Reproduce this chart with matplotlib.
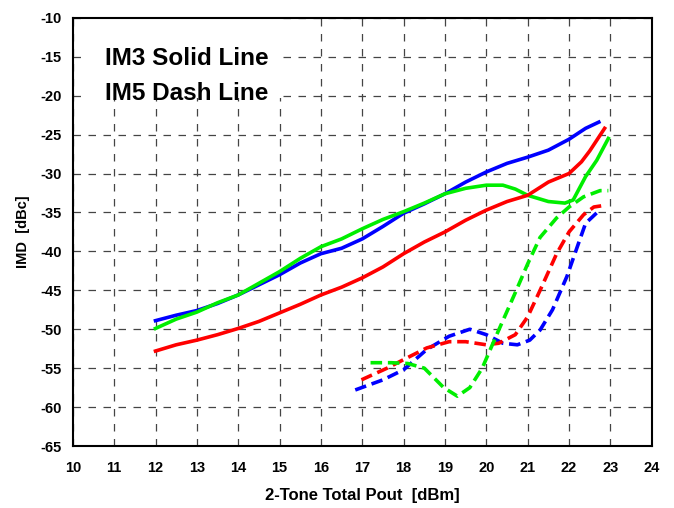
import matplotlib.pyplot as plt
from matplotlib.patches import Rectangle

plt.rcParams['font.family'] = ['Liberation Sans', 'DejaVu Sans']
plt.rcParams['font.weight'] = 'bold'
plt.rcParams['axes.unicode_minus'] = False

# IM3 (solid)
im3_blue_x = [12, 12.5, 13, 13.5, 14, 14.5, 15, 15.5, 16, 16.5, 17, 17.5, 18, 18.5,
              19, 19.5, 20, 20.5, 21, 21.5, 22, 22.4, 22.72]
im3_blue_y = [-48.9, -48.2, -47.6, -46.7, -45.6, -44.3, -43.0, -41.5, -40.3, -39.6, -38.4,
              -36.8, -35.1, -33.9, -32.6, -31.1, -29.8, -28.7, -27.9, -27.0, -25.6, -24.2, -23.4]

im3_green_x = [12, 12.5, 13, 13.5, 14, 14.5, 15, 15.5, 16, 16.5, 17, 17.5, 18, 18.5,
               19, 19.5, 20, 20.4, 20.7, 21, 21.5, 21.9, 22.1, 22.4, 22.67, 22.95]
im3_green_y = [-49.9, -48.7, -47.8, -46.6, -45.6, -44.1, -42.6, -40.9, -39.4, -38.4, -37.1,
               -35.9, -34.9, -33.8, -32.6, -31.9, -31.5, -31.5, -32.0, -32.8, -33.6, -33.8,
               -33.4, -30.4, -28.3, -25.5]

im3_red_x = [12, 12.5, 13, 13.5, 14, 14.5, 15, 15.5, 16, 16.5, 17, 17.5, 18, 18.5,
             19, 19.5, 20, 20.5, 21, 21.5, 22, 22.3, 22.5, 22.86]
im3_red_y = [-52.8, -52.0, -51.4, -50.7, -49.9, -49.0, -47.9, -46.8, -45.6, -44.6, -43.4,
             -42.0, -40.3, -38.8, -37.5, -36.0, -34.7, -33.6, -32.8, -31.1, -30.0, -28.5,
             -27.1, -24.2]

# IM5 (dashed)
im5_blue_x = [16.83, 17.5, 18, 18.56, 19.1, 19.6, 20, 20.4, 20.75, 21.05, 21.3, 21.6,
              21.95, 22.2, 22.4, 22.72]
im5_blue_y = [-57.8, -56.5, -55.2, -52.6, -50.9, -50.0, -50.7, -51.8, -52.0, -51.4, -50.1,
              -47.5, -43.2, -39.4, -36.4, -34.8]

im5_red_x = [16.98, 17.6, 18, 18.56, 19.1, 19.5, 20, 20.3, 20.7, 21, 21.3, 21.7, 22,
             22.35, 22.6, 22.85]
im5_red_y = [-56.5, -55.0, -53.9, -52.4, -51.6, -51.6, -52.0, -51.8, -50.7, -48.4, -45.0,
             -40.3, -37.5, -35.3, -34.3, -34.1]

im5_green_x = [17.2, 17.7, 18.1, 18.5, 18.97, 19.3, 19.6, 19.9, 20.3, 20.7, 21, 21.3,
               21.7, 22, 22.35, 22.75, 22.95]
im5_green_y = [-54.3, -54.3, -54.4, -55.0, -57.5, -58.6, -57.5, -55.0, -50.1, -45.3, -41.6,
               -38.2, -35.7, -34.3, -33.0, -32.2, -32.2]

x_ticks = list(range(10, 25))
y_ticks = list(range(-65, -9, 5))

fig = plt.figure(figsize=(6.74, 5.08), dpi=100)
ax = fig.add_axes([0.108, 0.122, 0.859, 0.843])

ax.set_xlim(10, 24)
ax.set_ylim(-65, -10)
ax.set_xticks(x_ticks)
ax.set_yticks(y_ticks)
ax.tick_params(length=0, labelsize=10.5)
ax.tick_params(axis='x', pad=11)
ax.tick_params(axis='y', pad=8)
ax.grid(True, color='#444444', linestyle=(0, (6, 6)), linewidth=0.9)
ax.set_axisbelow(True)
for s in ax.spines.values():
    s.set_linewidth(1.5)
    s.set_color('black')

# white box behind the note text
ax.add_patch(Rectangle((10.25, -20.3), 4.8, 10.3, facecolor='white',
                       edgecolor='none', zorder=1.5))

lw = 2.6
ax.plot(im3_blue_x, im3_blue_y, color='#0000ff', lw=lw, zorder=3)
ax.plot(im3_green_x, im3_green_y, color='#00ee00', lw=lw, zorder=3)
ax.plot(im3_red_x, im3_red_y, color='#ff0000', lw=lw, zorder=3)
dash = (0, (3.2, 1.6))
ax.plot(im5_blue_x, im5_blue_y, color='#0000ff', lw=lw, ls=dash, zorder=3)
ax.plot(im5_red_x, im5_red_y, color='#ff0000', lw=lw, ls=dash, zorder=3)
ax.plot(im5_green_x, im5_green_y, color='#00ee00', lw=lw, ls=dash, zorder=3)

ax.text(10.78, -16.1, 'IM3 Solid Line', fontsize=17.5, fontweight='bold', zorder=4)
ax.text(10.78, -20.6, 'IM5 Dash Line', fontsize=17.5, fontweight='bold', zorder=4)

ax.set_xlabel('2-Tone Total Pout  [dBm]', fontsize=12, fontweight='bold', labelpad=9)
ax.set_ylabel('IMD  [dBc]', fontsize=10.5, fontweight='bold', labelpad=7)

fig.savefig('out.png', dpi=100)
